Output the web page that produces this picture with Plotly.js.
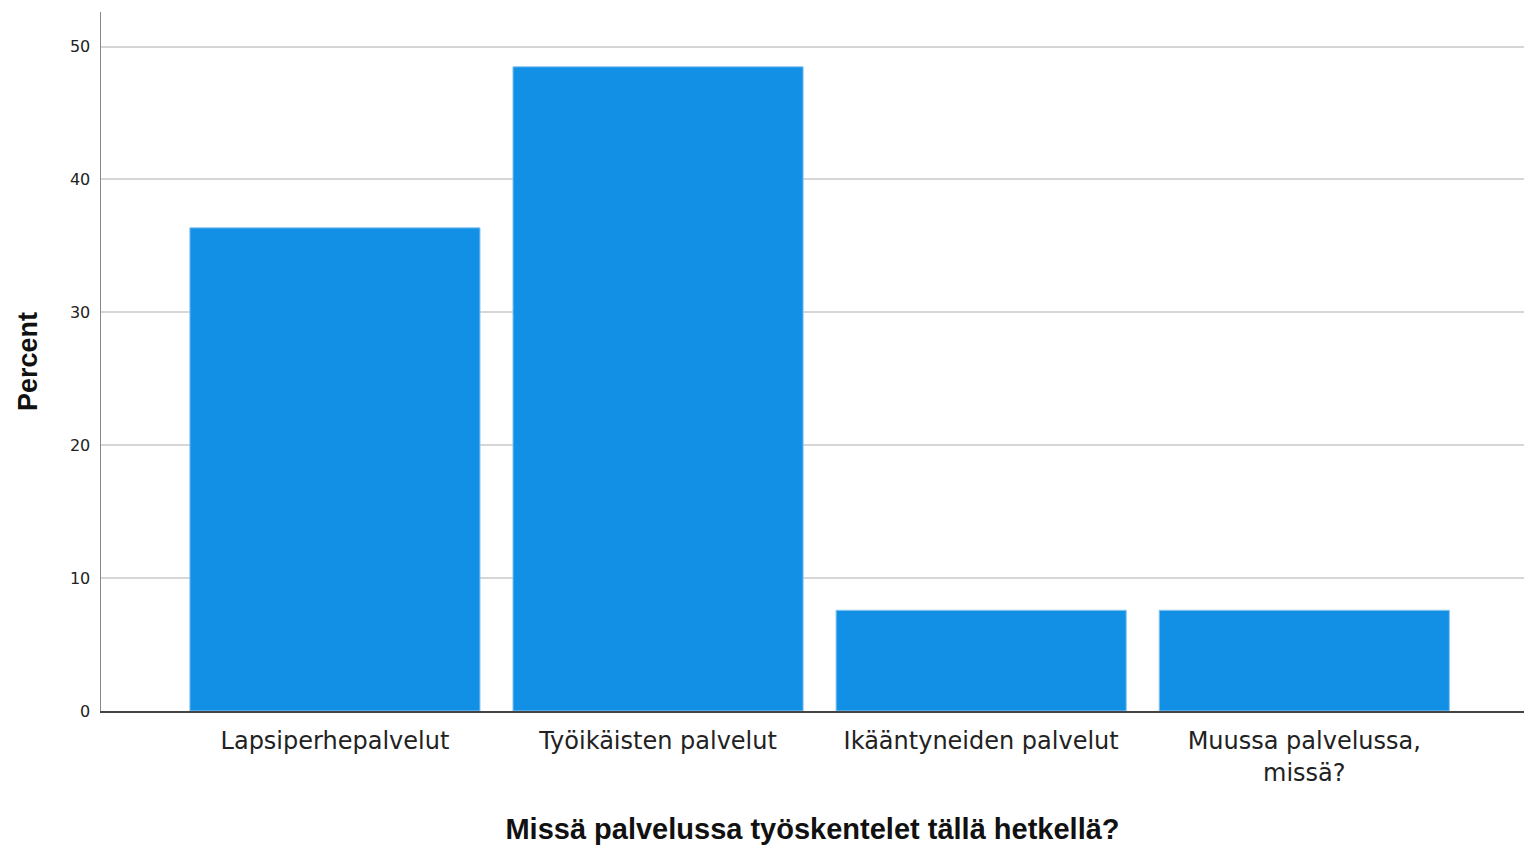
<!DOCTYPE html>
<html>
<head>
<meta charset="utf-8">
<script src="https://cdn.plot.ly/plotly-3.0.1.min.js"></script>
<style>html,body{margin:0;padding:0;background:#fff;}#chart{width:1524px;height:846px;}</style>
</head>
<body>
<div id="chart"></div>
<script>
const categories = ["Lapsiperhepalvelut", "Työikäisten palvelut", "Ikääntyneiden palvelut", "Muussa palvelussa,<br>missä?"];
const percentValues = [36.36, 48.48, 7.58, 7.58];
const yTickValues = [0, 10, 20, 30, 40, 50];

const trace = {
  type: "bar",
  x: categories.map((c, i) => i),
  y: percentValues,
  width: 0.898,
  marker: { color: "#1290e6", line: { color: "#8cc6f0", width: 1 } },
  hoverinfo: "y"
};

const layout = {
  width: 1524, height: 846,
  margin: { l: 101, r: 0, t: 12, b: 135 },
  paper_bgcolor: "#fff", plot_bgcolor: "#fff",
  showlegend: false,
  xaxis: {
    range: [-0.724, 3.68],
    tickmode: "array",
    tickvals: categories.map((c, i) => i),
    ticktext: categories,
    ticks: "", showgrid: false, zeroline: false,
    showline: true, linecolor: "#444", linewidth: 1.5,
    ticklabelstandoff: 8,
    tickfont: { family: "'DejaVu Sans', sans-serif", size: 24, color: "#222" },
    title: { text: "<b>Missä palvelussa työskentelet tällä hetkellä?</b>", font: { family: "'Liberation Sans', Arial, sans-serif", size: 29, color: "#111" }, standoff: 33 }
  },
  yaxis: {
    range: [0, 52.6],
    tickmode: "array", tickvals: yTickValues,
    ticks: "", showgrid: true, gridcolor: "#d6d6d6", gridwidth: 2,
    zeroline: false, showline: true, linecolor: "#888", linewidth: 1.5,
    ticklabelstandoff: 6,
    tickfont: { family: "'DejaVu Sans', sans-serif", size: 16, color: "#222" },
    title: { text: "<b>Percent</b>", font: { family: "'Liberation Sans', Arial, sans-serif", size: 27, color: "#111" }, standoff: 24 }
  }
};

Plotly.newPlot("chart", [trace], layout, { displayModeBar: false, staticPlot: true });
</script>
</body>
</html>
